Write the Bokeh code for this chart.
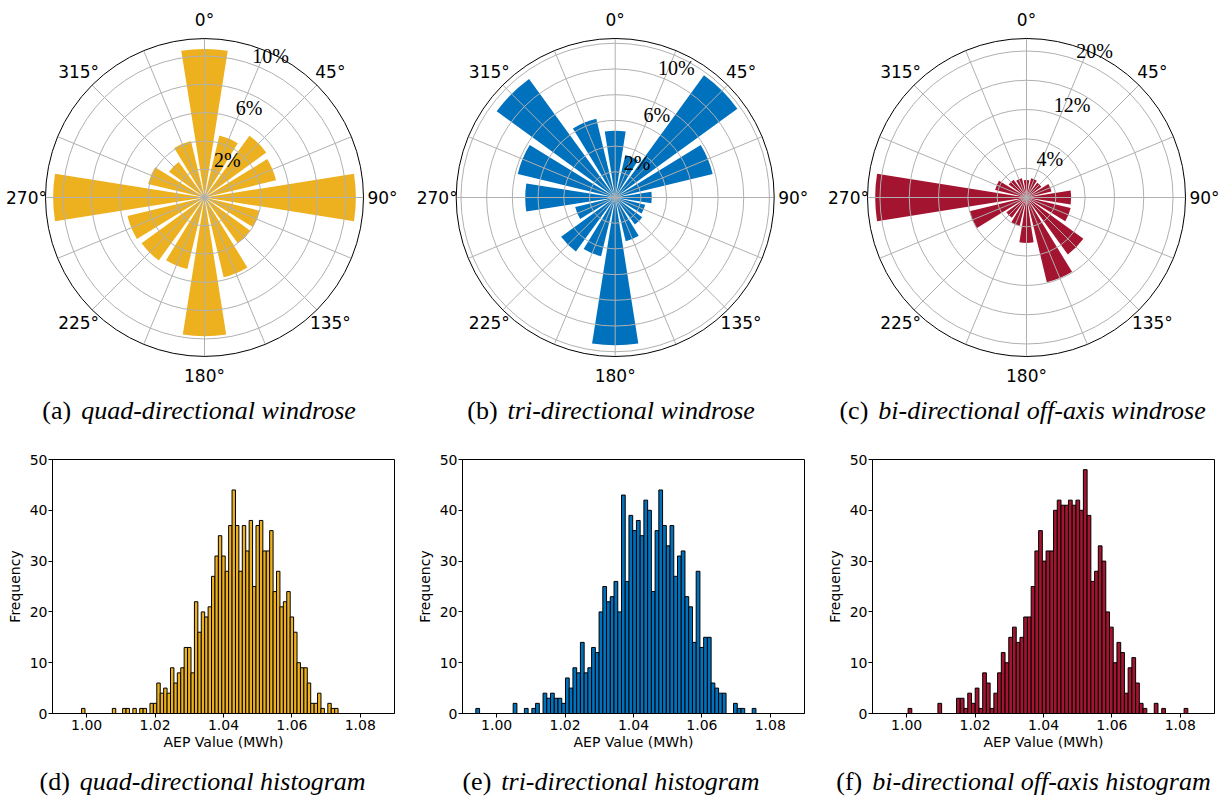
import numpy as np
from bokeh.plotting import figure
from bokeh.layouts import column, row
from bokeh.models import Range1d, FixedTicker, PrintfTickFormatter, ColumnDataSource
from bokeh.core.properties import value
from bokeh.embed import file_html
from bokeh.resources import INLINE

# ---------------------------------------------------------------- data
# Wind roses: 16 sectors, bearing of each sector centre (deg, clockwise from north)
sector_bearings = [i * 22.5 for i in range(16)]

# Share of time (%) the wind comes from each sector
quad_freq = [10.5, 4.5, 5.4, 5.2, 10.7, 4.0, 4.0, 5.8, 9.8, 5.2, 5.5, 5.6, 10.7, 4.1, 3.1, 4.1]
tri_freq = [5.2, 3.4, 11.75, 7.8, 2.85, 2.4, 2.6, 3.5, 11.5, 4.7, 5.2, 3.2, 7.0, 7.8, 11.4, 6.3]
bi_freq = [2.4, 2.7, 2.5, 3.5, 6.1, 6.2, 9.6, 11.9, 6.2, 4.0, 3.4, 8.0, 20.65, 4.4, 3.0, 2.7]

# Radial rings (%), rings that carry a label, outer radius of each rose (%)
quad_rings, quad_ring_labels, quad_rmax = [2, 4, 6, 8, 10], [2, 6, 10], 11.24
tri_rings, tri_ring_labels, tri_rmax = [2, 4, 6, 8, 10, 12], [2, 6, 10], 12.37
bi_rings, bi_ring_labels, bi_rmax = [4, 8, 12, 16, 20], [4, 12, 20], 21.7

bearing_ticks = [0, 45, 90, 135, 180, 225, 270, 315]
bearing_labels = ["0°", "45°", "90°", "135°", "180°", "225°", "270°", "315°"]

# AEP histograms: 75 equal-width bins spanning the sampled range
quad_bin_start, quad_bin_width = 0.9985, 0.001
quad_counts = [1, 0, 0, 0, 0, 0, 0, 0, 0, 1, 0, 0, 1, 1, 0, 1, 0, 1, 1, 0,
               2, 2, 6, 4, 5, 4, 9, 6, 8,
               9, 13, 13, 8, 22, 16, 20, 19, 21, 27, 31, 35, 31, 28, 37, 44, 37, 28,
               37, 32, 38, 25, 37, 38, 32, 32, 36, 24, 28, 21, 22, 24, 19, 16, 10, 9,
               9, 6, 2, 2, 4, 1, 0, 2, 1, 1]

tri_bin_start, tri_bin_width = 0.9939, 0.001092
tri_counts = [1, 0, 0, 0, 0, 0, 0, 0, 0, 0, 2, 0, 0, 1, 0, 1, 2, 0,
              4, 3, 4, 3, 3, 2, 7, 5, 9, 8, 14, 8, 9, 13, 12, 20, 25, 22, 23, 26, 20,
              43,
              26, 39, 36, 38, 35, 42, 40, 24, 36, 44, 37, 33, 37, 27, 31, 32, 23, 21, 14,
              28, 13, 15, 15, 6, 5, 4, 4, 0, 0, 2, 1, 1, 0, 0, 1]

bi_bin_start, bi_bin_width = 1.0004, 0.0010907
bi_counts = [1, 0, 0, 0, 0, 0, 0, 0, 2, 0, 0, 0, 0, 3, 3, 1, 4, 2, 5, 1, 8, 6, 1, 4,
             8, 12, 10, 15, 17, 14, 15, 19, 19, 25, 32, 36, 30, 32, 32,
             40, 42, 41, 41, 42, 41, 42, 40, 48, 39,
             26, 28, 33, 30, 20, 17, 10, 14, 12, 4, 9, 11, 6, 2, 1,
             0, 0, 2, 0, 1, 0, 0, 0, 0, 0, 1]

aep_ticks = [1.00, 1.02, 1.04, 1.06, 1.08]
freq_ticks = [0, 10, 20, 30, 40, 50]

QUAD_COLOR = "#EDB120"
TRI_COLOR = "#0072BD"
BI_COLOR = "#A2142F"

SANS = value("DejaVu Sans")
SERIF = value("Liberation Serif")
GRID = "#b0b0b0"

# ---------------------------------------------------------------- wind roses
ROSE_H = 440      # figure height (px)
ROSE_CY = 197     # rose centre, px from top
ROSE_R = 159      # outer circle radius (px)


def rose(freq, rings, ring_labels, rmax, color, width, cx, tag, caption, split_x):
    s = ROSE_R / rmax  # px per percent
    p = figure(width=width, height=ROSE_H,
               x_range=Range1d(-cx / s, (width - cx) / s),
               y_range=Range1d(-(ROSE_H - ROSE_CY) / s, ROSE_CY / s),
               x_axis_location=None, y_axis_location=None,
               output_backend="svg", toolbar_location=None, min_border=0,
               outline_line_color=None, background_fill_color="white",
               border_fill_color="white")
    p.xgrid.visible = False
    p.ygrid.visible = False

    # sector bars (80% of the sector opening)
    ang = np.radians(90 - np.asarray(sector_bearings))
    half = np.radians(22.5 * 0.8 / 2)
    src = ColumnDataSource(dict(x=np.zeros(len(freq)), y=np.zeros(len(freq)), r=freq,
                                a0=ang - half, a1=ang + half))
    p.wedge(x="x", y="y", radius="r", start_angle="a0", end_angle="a1", source=src,
            fill_color=color, line_color=None)

    # polar grid on top of the bars
    p.circle(x=[0] * len(rings), y=[0] * len(rings), radius=rings,
             fill_color=None, line_color=GRID, line_width=1)
    spokes = np.radians(90 - np.arange(0, 360, 22.5))
    p.segment(x0=0, y0=0, x1=rmax * np.cos(spokes), y1=rmax * np.sin(spokes),
              line_color=GRID, line_width=1)
    p.circle(x=[0], y=[0], radius=[rmax], fill_color=None, line_color="black", line_width=1)

    # bearing labels
    L = 178 / s
    b = np.radians(bearing_ticks)
    p.text(x=L * np.sin(b), y=L * np.cos(b), text=bearing_labels, text_font=SANS,
           text_font_size="17px", text_align="center", text_baseline="middle",
           text_color="black")

    # ring labels along the 22.5° bearing
    rl = np.asarray(ring_labels, float)
    a = np.radians(22.5)
    p.text(x=rl * np.sin(a) + 12 / s, y=rl * np.cos(a) + 11 / s,
           text=[f"{v}%" for v in ring_labels], text_font=SERIF, text_font_size="20px",
           text_align="center", text_baseline="middle", text_color="black")

    # sub-caption
    cy_cap = (ROSE_CY - 410) / s
    p.text(x=[(split_x - cx) / s], y=[cy_cap], text=[tag], text_font=SERIF,
           text_font_size="26px", text_align="right", text_baseline="middle",
           text_color="black")
    p.text(x=[(split_x + 10 - cx) / s], y=[cy_cap], text=[caption], text_font=SERIF,
           text_font_size="26px", text_font_style="italic", text_align="left",
           text_baseline="middle", text_color="black")
    return p


r1 = rose(quad_freq, quad_rings, quad_ring_labels, quad_rmax, QUAD_COLOR, 410, 204,
          "(a)", "quad-directional windrose", 70.7)
r2 = rose(tri_freq, tri_rings, tri_ring_labels, tri_rmax, TRI_COLOR, 410, 204.7,
          "(b)", "tri-directional windrose", 497.1 - 410)
r3 = rose(bi_freq, bi_rings, bi_ring_labels, bi_rmax, BI_COLOR, 405, 206,
          "(c)", "bi-directional off-axis windrose", 867.8 - 820)

# ---------------------------------------------------------------- histograms
HIST_H = 316


def hist(start, bw, counts, color, width):
    counts = np.asarray(counts, float)
    left = start + bw * np.arange(len(counts))
    p = figure(width=width, height=HIST_H,
               x_range=Range1d(0.99, 1.09), y_range=Range1d(0, 50),
               output_backend="svg", toolbar_location=None,
               min_border_left=52, min_border_right=width - 52 - 342,
               min_border_top=19, min_border_bottom=HIST_H - 19 - 254,
               background_fill_color="white", border_fill_color="white")
    p.quad(left=left, right=left + bw, bottom=0, top=counts,
           fill_color=color, line_color="black", line_width=1)
    p.xgrid.visible = False
    p.ygrid.visible = False
    p.outline_line_color = "black"
    p.outline_line_alpha = 1
    p.outline_line_width = 1

    p.xaxis.ticker = FixedTicker(ticks=aep_ticks)
    p.xaxis.formatter = PrintfTickFormatter(format="%.2f")
    p.yaxis.ticker = FixedTicker(ticks=freq_ticks)
    p.xaxis.axis_label = "AEP Value (MWh)"
    p.yaxis.axis_label = "Frequency"
    for ax in (p.xaxis[0], p.yaxis[0]):
        ax.axis_line_color = "black"
        ax.major_tick_line_color = "black"
        ax.major_tick_out = 4
        ax.major_tick_in = 0
        ax.minor_tick_out = 0
        ax.minor_tick_in = 0
        ax.major_label_text_font = "DejaVu Sans"
        ax.major_label_text_font_size = "14px"
        ax.major_label_text_color = "black"
        ax.axis_label_text_font = "DejaVu Sans"
        ax.axis_label_text_font_size = "14px"
        ax.axis_label_text_font_style = "normal"
        ax.axis_label_text_color = "black"
    p.xaxis.major_label_standoff = 2
    p.xaxis.axis_label_standoff = 1
    p.yaxis.major_label_standoff = 1
    p.yaxis.axis_label_standoff = 4
    return p


h1 = hist(quad_bin_start, quad_bin_width, quad_counts, QUAD_COLOR, 410)
h2 = hist(tri_bin_start, tri_bin_width, tri_counts, TRI_COLOR, 410)
h3 = hist(bi_bin_start, bi_bin_width, bi_counts, BI_COLOR, 405)

# ---------------------------------------------------------------- captions below histograms
cap = figure(width=1225, height=40, x_range=Range1d(0, 1225), y_range=Range1d(40, 0),
             x_axis_location=None, y_axis_location=None, min_border=0,
             outline_line_color=None, output_backend="svg", toolbar_location=None,
             background_fill_color="white", border_fill_color="white")
cap.xgrid.visible = False
cap.ygrid.visible = False
cap_tags = ["(d)", "(e)", "(f)"]
cap_texts = ["quad-directional histogram", "tri-directional histogram",
             "bi-directional off-axis histogram"]
cap_split = [69.3, 490.8, 861.75]
cap.text(x=cap_split, y=[25] * 3, text=cap_tags, text_font=SERIF, text_font_size="26px",
         text_align="right", text_baseline="middle", text_color="black")
cap.text(x=[v + 10 for v in cap_split], y=[25] * 3, text=cap_texts, text_font=SERIF,
         text_font_size="26px", text_font_style="italic", text_align="left",
         text_baseline="middle", text_color="black")

layout = column(row(r1, r2, r3, spacing=0), row(h1, h2, h3, spacing=0), cap, spacing=0)

with open("out.html", "w") as f:
    f.write(file_html(layout, INLINE))
